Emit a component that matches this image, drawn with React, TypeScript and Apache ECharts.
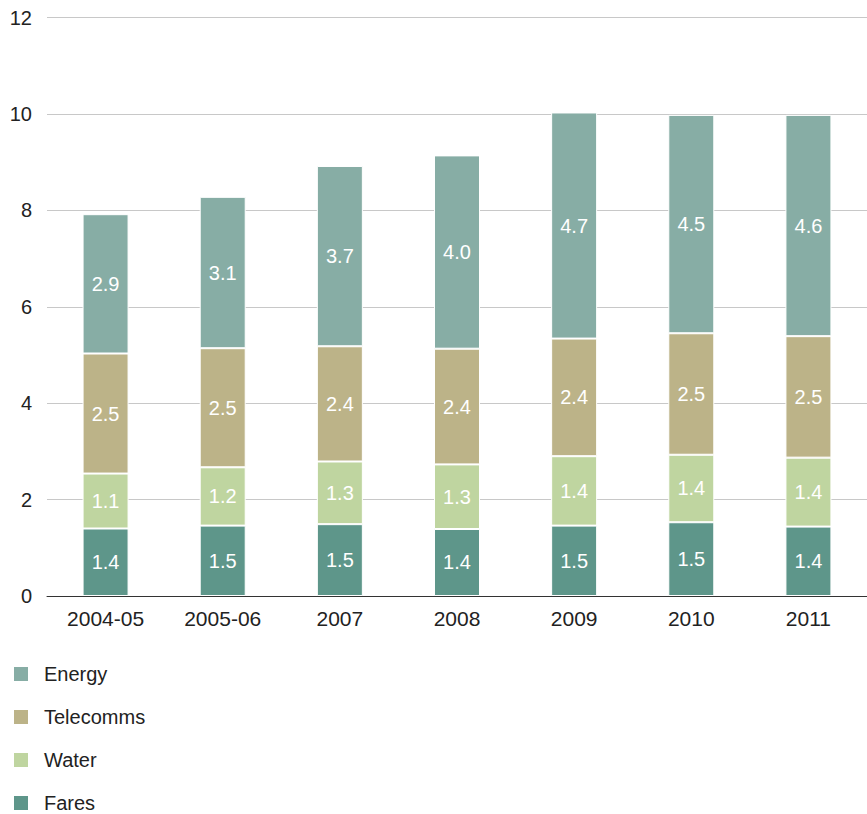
import React, { useEffect, useRef } from "react";
import * as echarts from "echarts";

const categories = ["2004-05", "2005-06", "2007", "2008", "2009", "2010", "2011"];
const fares = [1.4, 1.46, 1.49, 1.39, 1.46, 1.53, 1.44];
const water = [1.14, 1.21, 1.3, 1.34, 1.44, 1.4, 1.43];
const telecomms = [2.49, 2.47, 2.39, 2.4, 2.44, 2.52, 2.52];
const energy = [2.89, 3.14, 3.74, 4.01, 4.69, 4.53, 4.59];
const legendOrder = ["Energy", "Telecomms", "Water", "Fares"];

const FONT = "'Liberation Sans', Arial, Helvetica, sans-serif";

export default function App() {
  const ref = useRef<HTMLDivElement>(null);
  useEffect(() => {
    if (!ref.current) return;
    const chart = echarts.init(ref.current, null, { renderer: "svg" });
    const mk = (name: string, data: number[], color: string) => ({
      name,
      type: "bar",
      stack: "total",
      barWidth: 46,
      data,
      itemStyle: { color, borderColor: "#ffffff", borderWidth: 1 },
      label: {
        show: true,
        position: "inside",
        color: "#ffffff",
        fontSize: 20,
        fontFamily: FONT,
        formatter: (p: any) => Number(p.value).toFixed(1),
      },
    });
    chart.setOption({
      animation: false,
      backgroundColor: "#ffffff",
      textStyle: { fontFamily: FONT },
      grid: { left: 47, right: -6, top: 17.5, bottom: 218, containLabel: false },
      legend: {
        data: legendOrder,
        orient: "vertical",
        left: 12,
        top: 664,
        height: 150,
        padding: 0,
        itemWidth: 16,
        itemHeight: 16,
        itemGap: 23,
        icon: "rect",
        textStyle: { fontSize: 20, color: "#222222", fontFamily: FONT, padding: [0, 0, 0, 10] },
      },
      xAxis: {
        type: "category",
        data: categories,
        axisLine: { show: true, lineStyle: { color: "#333333", width: 1 } },
        axisTick: { show: false },
        axisLabel: { fontSize: 21, color: "#222222", margin: 12, fontFamily: FONT },
      },
      yAxis: {
        type: "value",
        min: 0,
        max: 12,
        interval: 2,
        axisLine: { show: false },
        axisTick: { show: false },
        axisLabel: { fontSize: 20, color: "#222222", margin: 15, fontFamily: FONT },
        splitLine: { lineStyle: { color: "#c8c8c8", width: 1 } },
      },
      series: [
        mk("Fares", fares, "#5e968a"),
        mk("Water", water, "#bfd5a0"),
        mk("Telecomms", telecomms, "#bcb388"),
        mk("Energy", energy, "#87ada5"),
      ],
    });
    return () => chart.dispose();
  }, []);
  return (
    <div
      ref={ref}
      style={{ position: "absolute", left: 0, top: 0, width: 867, height: 814 }}
    />
  );
}
